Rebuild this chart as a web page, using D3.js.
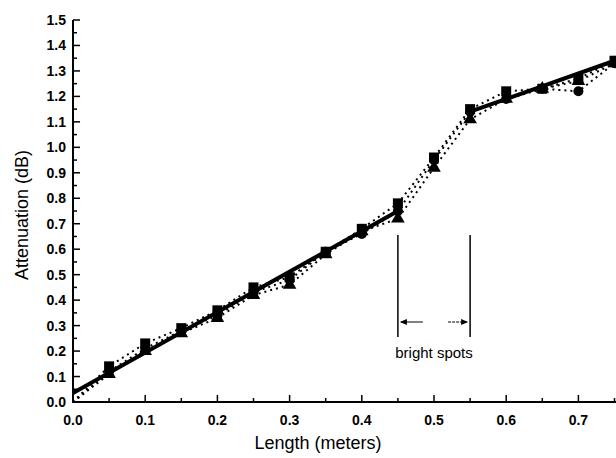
<!DOCTYPE html>
<html>
<head>
<meta charset="utf-8">
<script src="https://cdn.jsdelivr.net/npm/d3@7"></script>
<style>
  body { margin: 0; background: #fff; }
  svg { display: block; }
  text { font-family: "Liberation Sans", Arial, sans-serif; fill: #000; }
</style>
</head>
<body>
<div id="chart"></div>
<script>
const width = 616;
const height = 458;

// data
const lengths = [0, 0.05, 0.1, 0.15, 0.2, 0.25, 0.3, 0.35, 0.4, 0.45, 0.5, 0.55, 0.6, 0.65, 0.7, 0.75];
const squares = [0, 0.14, 0.23, 0.29, 0.36, 0.45, 0.49, 0.59, 0.68, 0.78, 0.96, 1.15, 1.22, 1.23, 1.27, 1.34];
const circles = [0, 0.12, 0.21, 0.28, 0.34, 0.43, 0.48, 0.59, 0.66, 0.75, 0.95, 1.14, 1.19, 1.23, 1.22, 1.33];
const triangles = [0, 0.11, 0.20, 0.27, 0.33, 0.42, 0.46, 0.58, 0.67, 0.72, 0.92, 1.11, 1.19, 1.23, 1.26, 1.33];
const fitLow = [[0, 0.035], [0.45, 0.75]];
const fitHigh = [[0.55, 1.14], [0.75, 1.34]];
const brightSpots = [0.45, 0.55];
const xTicks = [0, 0.1, 0.2, 0.3, 0.4, 0.5, 0.6, 0.7];
const yTicks = d3.range(0, 16).map(i => i / 10);

const x = d3.scaleLinear().domain([0, 0.8]).range([73, 650.6]);
const y = d3.scaleLinear().domain([0, 1.5]).range([402, 20]);

const svg = d3.select('#chart').append('svg')
  .attr('width', width)
  .attr('height', height);

// axes with inward ticks
const xMinor = d3.range(0.05, 0.8, 0.1);
const yMinor = d3.range(0.05, 1.5, 0.1);

const xAxis = svg.append('g').attr('transform', `translate(0,${y(0)})`);
xAxis.append('line')
  .attr('x1', x(0)).attr('x2', width)
  .attr('stroke', '#000').attr('stroke-width', 2);
xAxis.selectAll('.maj').data(xTicks).join('line')
  .attr('x1', d => x(d)).attr('x2', d => x(d))
  .attr('y1', 0).attr('y2', -7)
  .attr('stroke', '#000').attr('stroke-width', 1.5);
xAxis.selectAll('.min').data(xMinor).join('line')
  .attr('x1', d => x(d)).attr('x2', d => x(d))
  .attr('y1', 0).attr('y2', -4)
  .attr('stroke', '#000').attr('stroke-width', 1.5);
xAxis.selectAll('text').data(xTicks).join('text')
  .attr('x', d => x(d)).attr('y', 23)
  .attr('text-anchor', 'middle')
  .style('font-size', '14px').style('font-weight', 'bold')
  .text(d => d.toFixed(1));

const yAxis = svg.append('g').attr('transform', `translate(${x(0)},0)`);
yAxis.append('line')
  .attr('y1', y(0) + 1).attr('y2', y(1.5))
  .attr('stroke', '#000').attr('stroke-width', 2);
yAxis.selectAll('.maj').data(yTicks).join('line')
  .attr('y1', d => y(d)).attr('y2', d => y(d))
  .attr('x1', 0).attr('x2', 7)
  .attr('stroke', '#000').attr('stroke-width', 1.5);
yAxis.selectAll('.min').data(yMinor).join('line')
  .attr('y1', d => y(d)).attr('y2', d => y(d))
  .attr('x1', 0).attr('x2', 4)
  .attr('stroke', '#000').attr('stroke-width', 1.5);
yAxis.selectAll('text').data(yTicks).join('text')
  .attr('x', -7).attr('y', d => y(d) + 5)
  .attr('text-anchor', 'end')
  .style('font-size', '14px').style('font-weight', 'bold')
  .text(d => d.toFixed(1));

svg.append('text')
  .attr('x', 318).attr('y', 449)
  .attr('text-anchor', 'middle')
  .style('font-size', '18px')
  .text('Length (meters)');

svg.append('text')
  .attr('transform', `translate(28,215) rotate(-90)`)
  .attr('text-anchor', 'middle')
  .style('font-size', '18px')
  .text('Attenuation (dB)');

// dotted series lines
const line = d3.line().x((d, i) => x(lengths[i])).y(d => y(d));
[squares, circles, triangles].forEach(s => {
  svg.append('path')
    .attr('d', line(s))
    .attr('fill', 'none')
    .attr('stroke', '#000')
    .attr('stroke-width', 2)
    .attr('stroke-dasharray', '2,4');
});

// solid fits
const fit = d3.line().x(d => x(d[0])).y(d => y(d[1]));
[fitLow, fitHigh].forEach(f => {
  svg.append('path')
    .attr('d', fit(f))
    .attr('fill', 'none')
    .attr('stroke', '#000')
    .attr('stroke-width', 4);
});

// markers (skip the origin point)
const pts = s => s.map((v, i) => ({ x: lengths[i], y: v })).slice(1);
svg.selectAll('.sq').data(pts(squares)).join('rect')
  .attr('x', d => x(d.x) - 5).attr('y', d => y(d.y) - 5)
  .attr('width', 10).attr('height', 10).attr('fill', '#000');
svg.selectAll('.ci').data(pts(circles)).join('circle')
  .attr('cx', d => x(d.x)).attr('cy', d => y(d.y))
  .attr('r', 5).attr('fill', '#000');
svg.selectAll('.tr').data(pts(triangles)).join('path')
  .attr('d', d3.symbol(d3.symbolTriangle, 80))
  .attr('transform', d => `translate(${x(d.x)},${y(d.y)})`)
  .attr('fill', '#000');

// bright spots annotation
const ann = svg.append('g');
ann.selectAll('line').data(brightSpots).join('line')
  .attr('x1', d => x(d)).attr('x2', d => x(d))
  .attr('y1', 235).attr('y2', 337)
  .attr('stroke', '#000').attr('stroke-width', 1.5);
const arrowY = 322;
ann.append('line')
  .attr('x1', x(brightSpots[0]) + 3).attr('x2', x(brightSpots[0]) + 25)
  .attr('y1', arrowY).attr('y2', arrowY)
  .attr('stroke', '#000').attr('stroke-width', 1);
ann.append('path')
  .attr('d', `M${x(brightSpots[0]) + 2},${arrowY} l7,-3 l0,6 z`)
  .attr('fill', '#000');
ann.append('line')
  .attr('x1', x(brightSpots[1]) - 22).attr('x2', x(brightSpots[1]) - 3)
  .attr('y1', arrowY).attr('y2', arrowY)
  .attr('stroke', '#000').attr('stroke-width', 1).attr('stroke-dasharray', '3,1');
ann.append('path')
  .attr('d', `M${x(brightSpots[1]) - 2},${arrowY} l-7,-3 l0,6 z`)
  .attr('fill', '#000');
ann.append('text')
  .attr('x', (x(brightSpots[0]) + x(brightSpots[1])) / 2).attr('y', 358)
  .attr('text-anchor', 'middle')
  .style('font-size', '15px')
  .text('bright spots');
</script>
</body>
</html>
